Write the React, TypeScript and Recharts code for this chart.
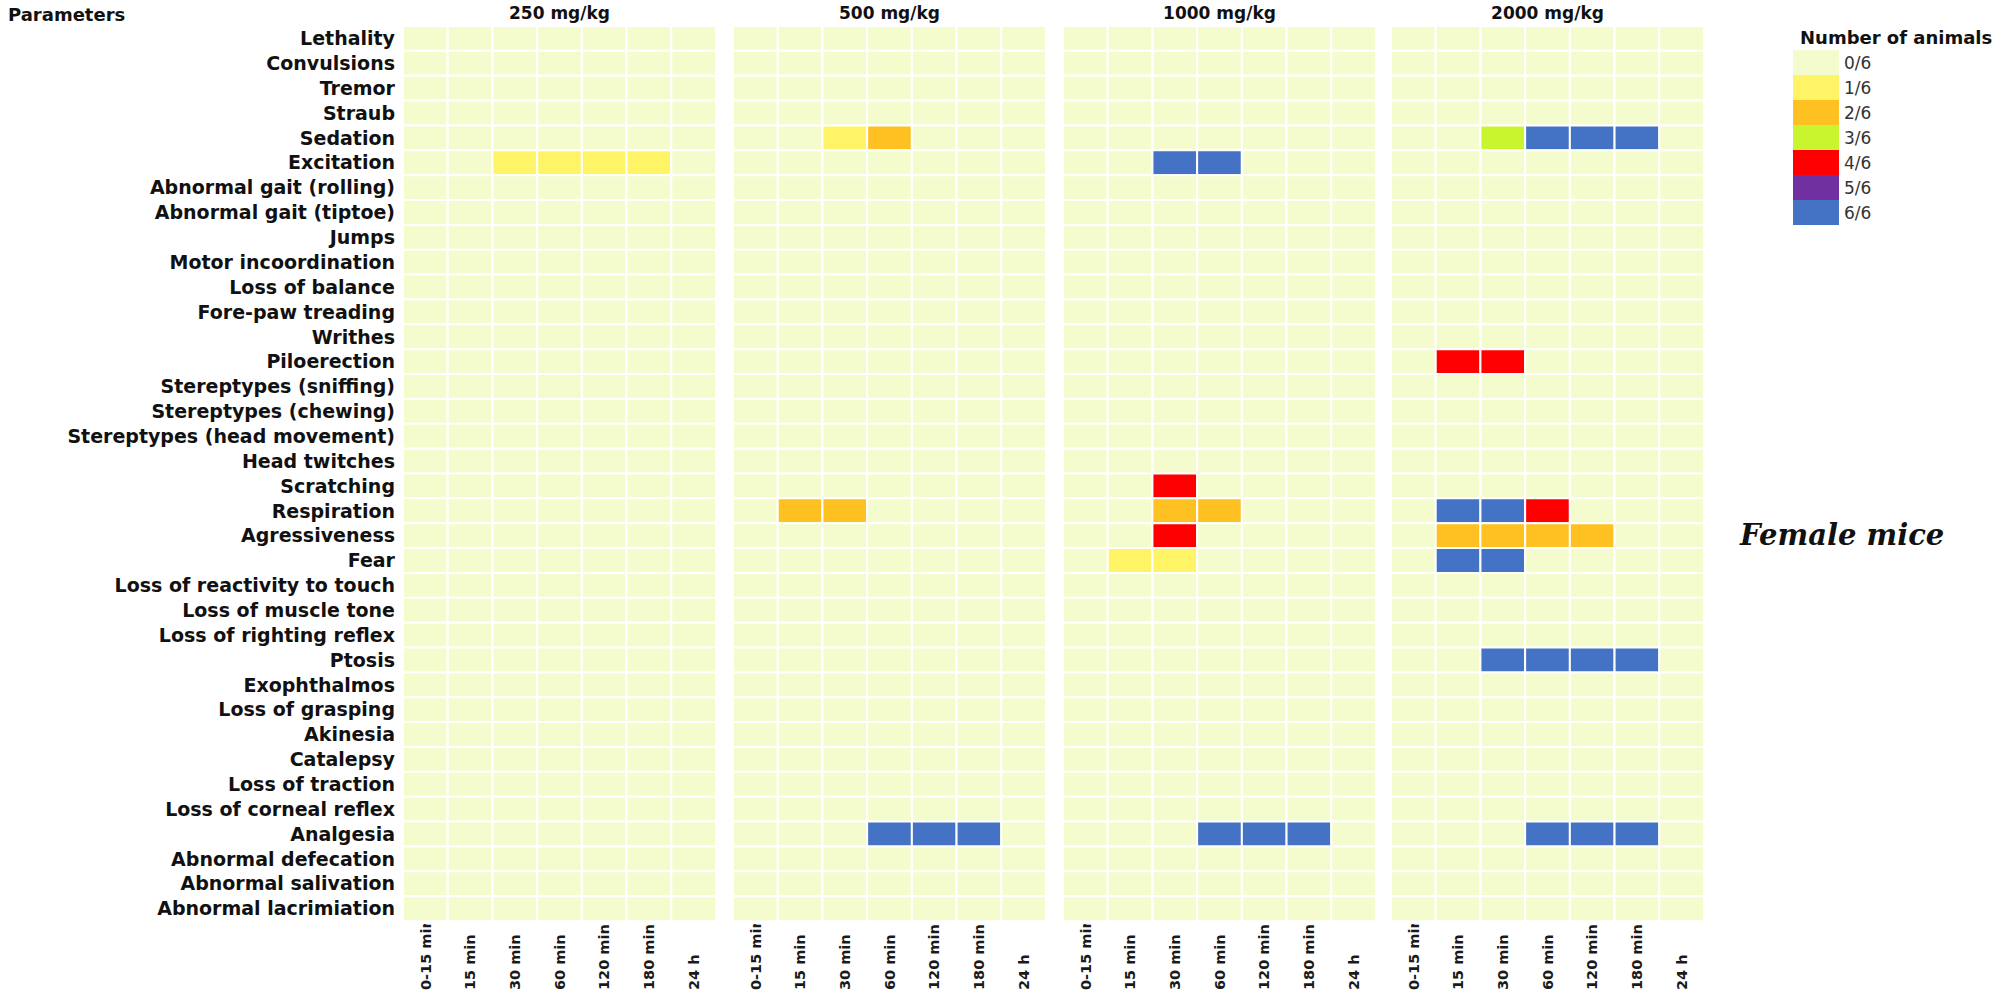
import React from 'react';
import { BarChart, Bar, XAxis, YAxis, Cell } from 'recharts';

const PARAMS = [
  'Lethality', 'Convulsions', 'Tremor', 'Straub', 'Sedation', 'Excitation',
  'Abnormal gait (rolling)', 'Abnormal gait (tiptoe)', 'Jumps', 'Motor incoordination',
  'Loss of balance', 'Fore-paw treading', 'Writhes', 'Piloerection',
  'Stereptypes (sniffing)', 'Stereptypes (chewing)', 'Stereptypes (head movement)',
  'Head twitches', 'Scratching', 'Respiration', 'Agressiveness', 'Fear',
  'Loss of reactivity to touch', 'Loss of muscle tone', 'Loss of righting reflex',
  'Ptosis', 'Exophthalmos', 'Loss of grasping', 'Akinesia', 'Catalepsy',
  'Loss of traction', 'Loss of corneal reflex', 'Analgesia', 'Abnormal defecation',
  'Abnormal salivation', 'Abnormal lacrimiation',
];

const TIMES = ['0-15 min', '15 min', '30 min', '60 min', '120 min', '180 min', '24 h'];
const DOSES = ['250 mg/kg', '500 mg/kg', '1000 mg/kg', '2000 mg/kg'];

const LEVELS = ['0/6', '1/6', '2/6', '3/6', '4/6', '5/6', '6/6'];
const LEVEL_COLORS = ['#F4FBCC', '#FFF466', '#FFC022', '#C8F52E', '#FF0000', '#7030A0', '#4472C4'];

// animals affected per time point (only non-zero rows listed)
const dose250: Record<string, number[]> = {
  Excitation: [0, 0, 1, 1, 1, 1, 0],
};
const dose500: Record<string, number[]> = {
  Sedation: [0, 0, 1, 2, 0, 0, 0],
  Respiration: [0, 2, 2, 0, 0, 0, 0],
  Analgesia: [0, 0, 0, 6, 6, 6, 0],
};
const dose1000: Record<string, number[]> = {
  Excitation: [0, 0, 6, 6, 0, 0, 0],
  Scratching: [0, 0, 4, 0, 0, 0, 0],
  Respiration: [0, 0, 2, 2, 0, 0, 0],
  Agressiveness: [0, 0, 4, 0, 0, 0, 0],
  Fear: [0, 1, 1, 0, 0, 0, 0],
  Analgesia: [0, 0, 0, 6, 6, 6, 0],
};
const dose2000: Record<string, number[]> = {
  Sedation: [0, 0, 3, 6, 6, 6, 0],
  Piloerection: [0, 4, 4, 0, 0, 0, 0],
  Respiration: [0, 6, 6, 4, 0, 0, 0],
  Agressiveness: [0, 2, 2, 2, 2, 0, 0],
  Fear: [0, 6, 6, 0, 0, 0, 0],
  Ptosis: [0, 0, 6, 6, 6, 6, 0],
  Analgesia: [0, 0, 0, 6, 6, 6, 0],
};

const DOSE_DATA = [dose250, dose500, dose1000, dose2000];

const FONT = '"DejaVu Sans", sans-serif';
const PANEL_LEFT = [403, 733, 1063, 1391];
const PANEL_W = 313;
const LABEL_W = 403;

function buildRows(counts: Record<string, number[]>) {
  return PARAMS.map((name) => {
    const row: any = { name, v: counts[name] || [0, 0, 0, 0, 0, 0, 0] };
    TIMES.forEach((_, k) => { row[`c${k}`] = 1; });
    return row;
  });
}

function TimeTick(props: any) {
  const { x, payload, index, panel } = props;
  const label = TIMES[Math.floor(payload.value)];
  const id = `clip-${panel}-${index}`;
  return (
    <g>
      <defs>
        <clipPath id={id}>
          <rect x={x - 20} y={924} width={40} height={75} />
        </clipPath>
      </defs>
      <g clipPath={`url(#${id})`}>
        <text
          x={x}
          y={990}
          dy="0.36em"
          transform={`rotate(-90 ${x} 990)`}
          textAnchor="start"
          fontFamily={FONT}
          fontWeight="bold"
          fontSize={14.5}
          fill="#1a1a1a"
        >
          {label}
        </text>
      </g>
    </g>
  );
}

function Panel({ idx }: { idx: number }) {
  const rows = buildRows(DOSE_DATA[idx]);
  const first = idx === 0;
  const width = first ? LABEL_W + PANEL_W : PANEL_W;
  const left = first ? 0 : PANEL_LEFT[idx];
  return (
    <div style={{ position: 'absolute', left, top: 0 }}>
      <BarChart
        width={width}
        height={999}
        data={rows}
        layout="vertical"
        barCategoryGap={0}
        barGap={0}
        margin={{ top: 26, right: 0, bottom: 0, left: 0 }}
      >
        <XAxis
          type="number"
          domain={[0, 7]}
          ticks={[0.5, 1.5, 2.5, 3.5, 4.5, 5.5, 6.5]}
          interval={0}
          height={78}
          axisLine={false}
          tickLine={false}
          tick={<TimeTick panel={idx} />}
        />
        <YAxis
          type="category"
          dataKey="name"
          width={first ? LABEL_W : 0}
          hide={!first}
          interval={0}
          axisLine={false}
          tickLine={false}
          tick={{ fontFamily: FONT, fontWeight: 'bold', fontSize: 19, fill: '#111' }}
        />
        {TIMES.map((t, k) => (
          <Bar
            key={t}
            dataKey={`c${k}`}
            stackId="cells"
            stroke="#ffffff"
            strokeWidth={2}
            isAnimationActive={false}
          >
            {rows.map((r, i) => (
              <Cell key={i} fill={LEVEL_COLORS[r.v[k]]} />
            ))}
          </Bar>
        ))}
      </BarChart>
    </div>
  );
}

export default function App() {
  return (
    <div
      style={{
        position: 'absolute',
        left: 0,
        top: 0,
        width: 2000,
        height: 999,
        background: '#fff',
        fontFamily: FONT,
        color: '#111',
      }}
    >
      <div style={{ position: 'absolute', left: 8, top: 4, fontSize: 18, fontWeight: 'bold', lineHeight: '22px' }}>
        Parameters
      </div>
      {DOSES.map((d, i) => (
        <div
          key={d}
          style={{
            position: 'absolute',
            left: PANEL_LEFT[i],
            top: 3,
            width: PANEL_W,
            textAlign: 'center',
            fontSize: 17,
            fontWeight: 'bold',
            lineHeight: '20px',
          }}
        >
          {d}
        </div>
      ))}
      {DOSES.map((_, i) => (
        <Panel key={i} idx={i} />
      ))}

      <div style={{ position: 'absolute', left: 1800, top: 27, fontSize: 18, fontWeight: 'bold', lineHeight: '22px', whiteSpace: 'nowrap' }}>
        Number of animals
      </div>
      <div style={{ position: 'absolute', left: 1793, top: 50 }}>
        {LEVELS.map((lv, i) => (
          <div key={lv} style={{ display: 'flex', alignItems: 'center', height: 25 }}>
            <div style={{ width: 46, height: 25, background: LEVEL_COLORS[i] }} />
            <span style={{ marginLeft: 5, fontSize: 17, color: '#333' }}>{lv}</span>
          </div>
        ))}
      </div>

      <div
        style={{
          position: 'absolute',
          left: 1740,
          top: 516,
          fontFamily: '"DejaVu Serif", serif',
          fontStyle: 'italic',
          fontWeight: 'bold',
          fontSize: 29,
          lineHeight: '38px',
          whiteSpace: 'nowrap',
          color: '#111',
        }}
      >
        Female mice
      </div>
    </div>
  );
}
